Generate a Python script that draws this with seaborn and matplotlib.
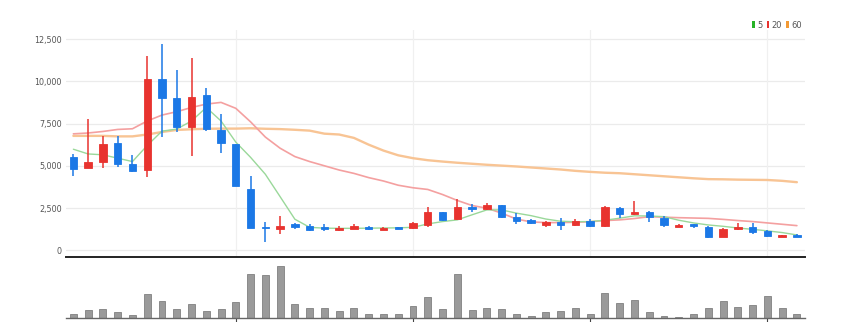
import matplotlib
matplotlib.use('Agg')
import numpy as np
import pandas as pd
import seaborn as sns
import matplotlib.pyplot as plt
from matplotlib.patches import Patch
from matplotlib.ticker import FuncFormatter

# ---------------- data ----------------
opens = [5545, 4890, 5250, 6340, 5100, 4740, 10130, 9000, 7320, 9200,
         7130, 6300, 3650, 1380, 1270, 1540, 1440, 1360, 1200, 1280,
         1380, 1220, 1360, 1320, 1500, 2290, 1840, 2580, 2430, 2670,
         1950, 1800, 1500, 1690, 1480, 1740, 1440, 2490, 2130, 2250,
         1900, 1400, 1540, 1400, 810, 1240, 1400, 1140, 790, 920]
closes = [4800, 5230, 6260, 5110, 4680, 10130, 9000, 7320, 9040, 7170,
          6320, 3830, 1330, 1300, 1450, 1400, 1230, 1250, 1340, 1440,
          1260, 1340, 1290, 1600, 2280, 1800, 2580, 2430, 2680, 1990,
          1760, 1600, 1690, 1500, 1740, 1460, 2570, 2150, 2290, 1990,
          1500, 1510, 1440, 810, 1240, 1400, 1100, 850, 900, 770]
highs = [5690, 7760, 6770, 6770, 5650, 11470, 12200, 10680, 11350, 9630,
         8060, 6300, 4380, 1700, 2010, 1640, 1560, 1560, 1420, 1560,
         1440, 1380, 1380, 1680, 2580, 2290, 3040, 2740, 2820, 2700,
         2190, 1840, 1750, 1900, 1840, 1840, 2620, 2540, 2940, 2320,
         2050, 1540, 1560, 1450, 1300, 1640, 1600, 1200, 920, 940]
lows = [4420, 4860, 4890, 4930, 4640, 4360, 6690, 6970, 5550, 7030,
        5750, 3830, 1330, 510, 950, 1280, 1160, 1160, 1140, 1240,
        1200, 1200, 1270, 1290, 1380, 1750, 1800, 2290, 2400, 1930,
        1560, 1560, 1400, 1200, 1460, 1400, 1400, 1900, 2100, 1700,
        1400, 1380, 1300, 710, 780, 1200, 950, 800, 780, 760]
ma5 = [5980, 5700, 5650, 5450, 5250, 6200, 7050, 7170, 7650, 8450,
       7650, 6400, 5500, 4500, 3175, 1840, 1360, 1310, 1300, 1300,
       1310, 1320, 1330, 1360, 1560, 1700, 1800, 2100, 2390, 2390,
       2200, 2050, 1850, 1720, 1690, 1700, 1780, 1900, 2040, 2030,
       1990, 1780, 1620, 1500, 1420, 1320, 1240, 1150, 1050, 910]
ma20 = [6890, 6940, 7030, 7150, 7190, 7650, 8000, 8200, 8450, 8650,
        8750, 8400, 7600, 6700, 6040, 5545, 5250, 5000, 4750, 4550,
        4300, 4100, 3850, 3700, 3600, 3300, 2950, 2650, 2490, 2200,
        1850, 1680, 1640, 1640, 1660, 1690, 1760, 1800, 1880, 1990,
        1960, 1930, 1910, 1890, 1830, 1760, 1700, 1620, 1540, 1460]
ma60 = [6770, 6770, 6770, 6740, 6740, 6850, 7000, 7120, 7160, 7190,
        7200, 7200, 7220, 7190, 7170, 7130, 7080, 6900, 6850, 6650,
        6250, 5900, 5620, 5450, 5330, 5250, 5180, 5120, 5060, 5010,
        4960, 4900, 4840, 4780, 4700, 4640, 4590, 4560, 4500, 4440,
        4380, 4320, 4260, 4210, 4200, 4180, 4170, 4160, 4110, 4030]
volume = [4, 8, 9, 6, 3, 24, 17.7, 9, 14, 7,
          9, 16, 45, 44, 53, 14, 10.7, 10.7, 7, 10.7,
          4, 4, 4, 12.7, 21, 9, 45, 8, 10.7, 9,
          4.7, 2.3, 6, 7, 10.7, 4.7, 25, 15.3, 18.7, 6,
          2.3, 1.7, 4.7, 10.7, 17.3, 11.3, 13.7, 22, 10, 4.3]
yticks = [0, 2500, 5000, 7500, 10000, 12500]
xgrid = [11, 23, 35, 47]
legend_labels = ['5', '20', '60']

# ---------------- styling ----------------
UP = '#e8332f'
DOWN = '#1b78e6'
LEG_COLORS = ['#27b327', '#e8332f', '#f39a34']
LINE_COLORS = ['#9ad89a', '#f4a0a0', '#f8c494']

sns.set_theme(style='white')
plt.rcParams['font.family'] = ['Liberation Sans Narrow', 'DejaVu Sans']

idx = np.arange(len(opens))
df = pd.DataFrame({'idx': idx, 'open': opens, 'close': closes, 'high': highs,
                   'low': lows, 'ma5': ma5, 'ma20': ma20, 'ma60': ma60,
                   'volume': volume})
df['up'] = df['close'] >= df['open']
colors = [UP if u else DOWN for u in df['up']]

W, H = 847, 322
fig = plt.figure(figsize=(W / 100, H / 100), dpi=100)
ax = fig.add_axes([66 / W, 65 / H, 739 / W, 227 / H])
axv = fig.add_axes([66 / W, 3.7 / H, 739 / W, 60 / H])

# moving averages
sns.lineplot(data=df, x='idx', y='ma60', ax=ax, color=LINE_COLORS[2], lw=1.7, zorder=2)
sns.lineplot(data=df, x='idx', y='ma20', ax=ax, color=LINE_COLORS[1], lw=1.2, zorder=2)
sns.lineplot(data=df, x='idx', y='ma5', ax=ax, color=LINE_COLORS[0], lw=1.0, zorder=2)

# candles
ax.vlines(df['idx'], df['low'], df['high'], colors=colors, lw=1.1, zorder=3)
body_bottom = np.minimum(df['open'], df['close'])
body_h = np.abs(df['close'] - df['open'])
ax.bar(df['idx'], body_h, bottom=body_bottom, width=0.5, color=colors,
       edgecolor=colors, linewidth=0.6, zorder=4)

ax.set_xlim(-0.5, 49.55)
ax.set_ylim(-396, 13033)
ax.set_yticks(yticks)
ax.yaxis.set_major_formatter(FuncFormatter(lambda v, p: f'{int(v):,}'))
ax.tick_params(axis='y', length=0, pad=3, labelsize=5.8, labelcolor='#555555')
ax.set_xticks([])
ax.set_xlabel('')
ax.set_ylabel('')
for yv in yticks:
    ax.axhline(yv, color='#ebebeb', lw=0.9, zorder=0)
for xv in xgrid:
    ax.axvline(xv, color='#f0f0f0', lw=0.9, zorder=0)
for s in ['top', 'right', 'left']:
    ax.spines[s].set_visible(False)
ax.spines['bottom'].set_color('#222222')
ax.spines['bottom'].set_linewidth(1.4)

# legend
handles = [Patch(facecolor=c, edgecolor='none') for c in LEG_COLORS]
fig.legend(handles, legend_labels, loc='center right', bbox_to_anchor=(806 / W, 1 - 25 / H),
           ncol=3, frameon=False, fontsize=6, handlelength=0.3, handleheight=1.0,
           handletextpad=0.3, columnspacing=0.5, borderpad=0, labelcolor='#555555')

# volume
sns.barplot(data=df, x='idx', y='volume', ax=axv, native_scale=True, color='#9a9a9a',
            saturation=1, width=0.47, edgecolor='#808080', linewidth=0.6)
axv.set_xlim(-0.5, 49.55)
axv.set_ylim(0, 60.3)
axv.set_xlabel('')
axv.set_ylabel('')
axv.set_yticks([])
axv.set_xticks(xgrid)
axv.set_xticklabels([])
axv.tick_params(axis='x', length=3.5, width=0.8, color='#444444', direction='out', bottom=True)
for s in ['top', 'right', 'left']:
    axv.spines[s].set_visible(False)
axv.spines['bottom'].set_color('#666666')
axv.spines['bottom'].set_linewidth(1.0)

fig.savefig('out.png', dpi=100, facecolor='white')
